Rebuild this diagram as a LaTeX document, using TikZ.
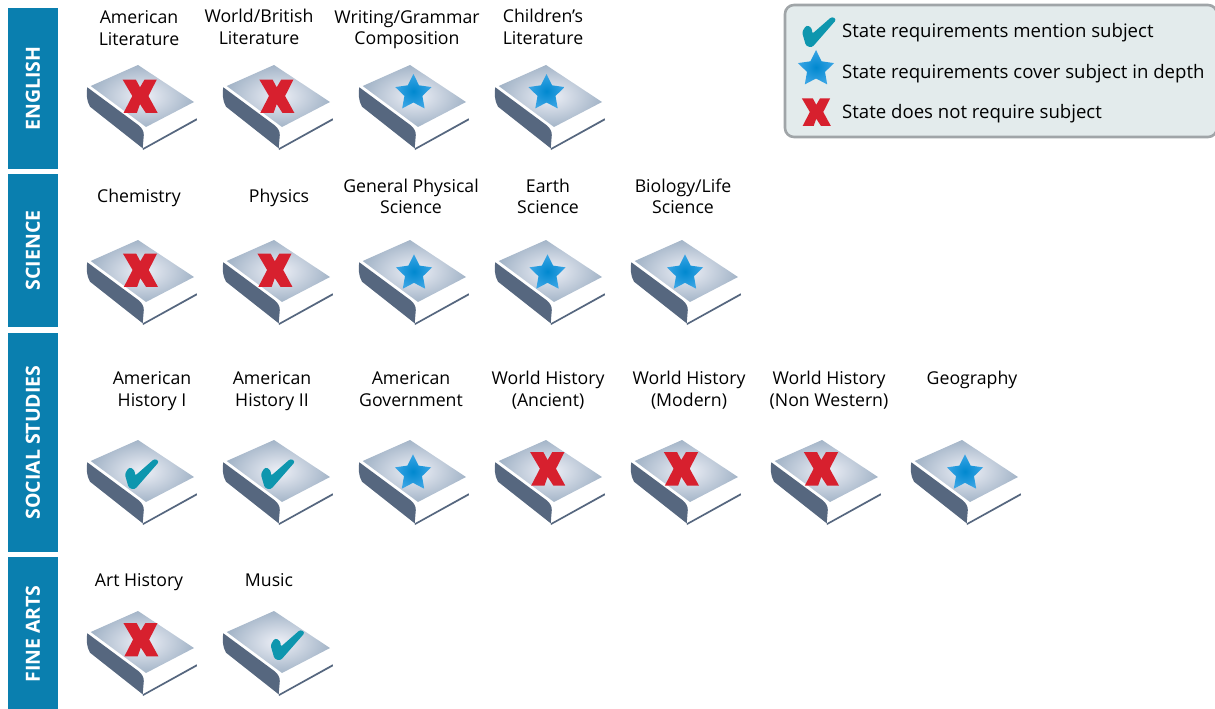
\documentclass[tikz,border=0pt]{standalone}
\usepackage{fontspec}
\setmainfont{Open Sans}
\definecolor{barblue}{HTML}{0A7FAF}
\definecolor{spine}{HTML}{56677F}
\definecolor{xred}{HTML}{D7202E}
\definecolor{checkteal}{HTML}{0E96AE}
\definecolor{legfill}{HTML}{E3EBEC}
\definecolor{legline}{HTML}{A0A5A8}
\definecolor{pagein}{HTML}{EEF0F7}
\definecolor{pageout}{HTML}{A4B5C8}
\definecolor{starin}{HTML}{0088CF}
\definecolor{starout}{HTML}{3AA5E5}
\tikzset{
  x=1pt,y=-1pt,
  catbar/.style={fill=barblue,draw=none},
  cattext/.style={text=white,rotate=90,font=\fontsize{19.5}{22}\selectfont\bfseries},
  subj/.style={align=center,inner sep=0pt,font=\fontsize{17.7}{21.5}\selectfont,text=black},
  legtext/.style={anchor=west,inner sep=0pt,font=\fontsize{18.6}{21}\selectfont,text=black},
  legbox/.style={draw=legline,line width=2.6pt,fill=legfill,rounded corners=9pt},
  xmark/.pic={\fill[xred] (-17.1,-16.5)--(-3.9,-16.5)--(.3,-8.7)--(4.9,-16.5)--(17.1,-16.5)--(8.7,0)--(17.9,16.8)--(6,16.8)--(.3,8.1)--(-2.8,16.8)--(-16.1,16.8)--(-7.4,0)--cycle;},
  starmark/.pic={\shade[inner color=starin,outer color=starout] (0,-19)--(5.6,-7.7)--(18.1,-5.9)--(9,2.9)--(11.2,15.4)--(0,9.5)--(-11.2,15.4)--(-9,2.9)--(-18.1,-5.9)--(-5.6,-7.7)--cycle;},
  checkmark/.pic={\fill[checkteal,rounded corners=2.5pt] (-15,0)--(-10.5,-7)--(-5,-4)--(-5,2)--(15,-15.5)--(19.5,-12.5)--(-5,15.5)--(-11,14)--cycle;},
  bookbody/.pic={
    \fill[spine] (1.3,22.3) .. controls (.2,27) and (.4,36) .. (4,41.7) -- (56.7,83.3) -- (57.8,70) .. controls (57.8,66) and (56,63) .. (52.3,60) -- cycle;
    \fill[spine] (56.7,83.3) -- (110.7,53.3) -- (111,55.2) -- (57,85) -- cycle;
    \shade[inner color=pagein,outer color=pageout] (4.7,21) -- (52,0) -- (108,37) -- (60,62) -- cycle;
  }
}
\newcommand\bookat[5]{\begin{scope}[shift={(#1,#2)}]\pic {bookbody}; \pic at (#4,#5) {#3};\end{scope}}
\begin{document}
\begin{tikzpicture}
\useasboundingbox (0,0) rectangle (1215,709);
% category bars
\fill[catbar] (8,8) rectangle (58,169);
\fill[catbar] (8,174) rectangle (58,327);
\fill[catbar] (8,333) rectangle (58,552);
\fill[catbar] (8,557) rectangle (58,709);
\node[cattext] (english) at (33,88.5) {ENGLISH};
\node[cattext] (science) at (33,250.5) {SCIENCE};
\node[cattext] (social) at (33,442.5) {SOCIAL STUDIES};
\node[cattext] (finearts) at (33,634) {FINE ARTS};
% row 1
\node[subj] (l11) at (139,28) {American\\Literature};
\node[subj] (l12) at (259,27) {World/British\\Literature};
\node[subj] (l13) at (407,29.5) {Writing/Grammar\\Composition};
\node[subj] (l14) at (543,27) {Children’s\\Literature};
\bookat{86}{65}{xmark}{53.7}{31}
\bookat{222}{65}{xmark}{54.4}{31}
\bookat{358}{65}{starmark}{55.4}{28}
\bookat{494}{65}{starmark}{52.5}{28}
% row 2
\node[subj] (l21) at (139,198) {Chemistry};
\node[subj] (l22) at (279,198) {Physics};
\node[subj] (l23) at (411,196.5) {General Physical\\Science};
\node[subj] (l24) at (548,196.5) {Earth\\Science};
\node[subj] (l25) at (683,196.5) {Biology/Life\\Science};
\bookat{86}{240}{xmark}{54}{30}
\bookat{222}{240}{xmark}{52.5}{30}
\bookat{358}{240}{starmark}{56}{33.3}
\bookat{494}{240}{starmark}{53.5}{33.3}
\bookat{630}{240}{starmark}{55}{33.3}
% row 3
\node[subj] (l31) at (152,391) {American\\History I};
\node[subj] (l32) at (272,391) {American\\History II};
\node[subj] (l33) at (411,389) {American\\Government};
\node[subj] (l34) at (548,390) {World History\\(Ancient)};
\node[subj] (l35) at (689,390) {World History\\(Modern)};
\node[subj] (l36) at (829,390) {World History\\(Non Western)};
\node[subj] (l37) at (972,380) {Geography};
\bookat{86}{440}{checkmark}{53.75}{34}
\bookat{222}{440}{checkmark}{53.75}{34}
\bookat{358}{440}{starmark}{55}{33.3}
\bookat{494}{440}{xmark}{53.3}{28.7}
\bookat{630}{440}{xmark}{51}{28.7}
\bookat{770}{440}{xmark}{51}{28.7}
\bookat{910}{440}{starmark}{55}{33.3}
% row 4
\node[subj] (l41) at (139,582) {Art History};
\node[subj] (l42) at (269,580) {Music};
\bookat{86}{611}{xmark}{54.5}{28.5}
\bookat{222}{611}{checkmark}{63.5}{34}
% legend
\draw[legbox] (785,5) rectangle (1217,137);
\pic at (817,32) {checkmark};
\pic at (816,69) {starmark};
\pic[scale=.83] at (816,112) {xmark};
\node[legtext] (t1) at (842,33) {State requirements mention subject};
\node[legtext] (t2) at (842,74) {State requirements cover subject in depth};
\node[legtext] (t3) at (842,114) {State does not require subject};
\end{tikzpicture}
\end{document}
